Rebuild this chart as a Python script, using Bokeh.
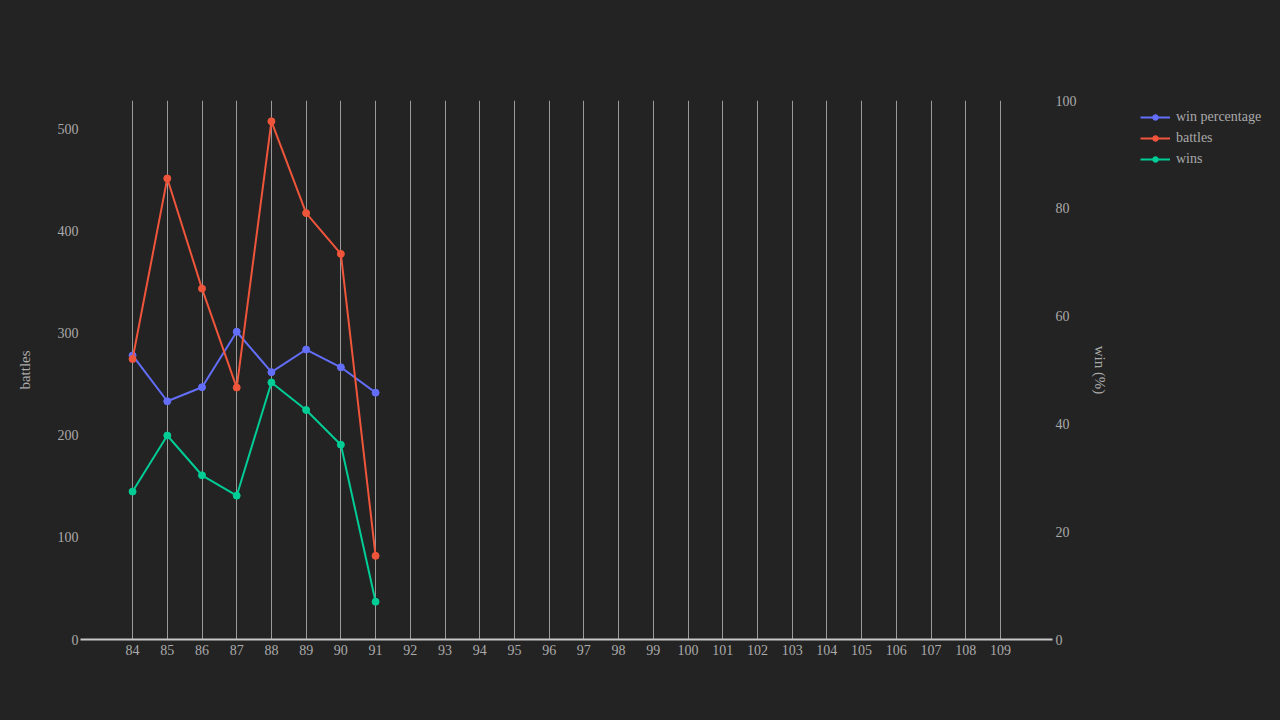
from bokeh.plotting import figure
from bokeh.layouts import row
from bokeh.models import Range1d, LinearAxis, Legend, LegendItem, FixedTicker
from bokeh.embed import file_html
from bokeh.resources import INLINE

seasons = [84, 85, 86, 87, 88, 89, 90, 91]
all_ticks = list(range(84, 110))
battles = [275, 452, 344, 247, 508, 418, 378, 82]
wins = [145, 200, 161, 141, 252, 225, 191, 37]
win_pct = [52.7, 44.2, 46.8, 57.1, 49.6, 53.8, 50.5, 45.8]
series_names = ["win percentage", "battles", "wins"]

BG = "#232323"
TXT = "#aaaaaa"
FONT = "Liberation Serif"
C_PCT = "#636efa"
C_BAT = "#ef553b"
C_WIN = "#00cc96"
colors = [C_PCT, C_BAT, C_WIN]

p = figure(width=1122, height=712, output_backend="svg", toolbar_location=None,
           x_range=Range1d(82.5, 110.5), y_range=Range1d(0, 528.4),
           min_border_left=80, min_border_right=70, min_border_top=100, min_border_bottom=73)
p.background_fill_alpha = 0
p.border_fill_color = BG
p.outline_line_color = None
p.extra_y_ranges = {"pct": Range1d(0, 100)}

# x axis
p.xaxis.ticker = FixedTicker(ticks=all_ticks)
p.xaxis.axis_line_color = "#c8c8c8"
p.xaxis.axis_line_width = 2
p.xaxis.major_tick_line_color = None
p.xaxis.minor_tick_line_color = None
p.xaxis.major_tick_out = 0
p.xaxis.minor_tick_out = 0
p.xaxis.major_label_text_color = TXT
p.xaxis.major_label_text_font = FONT
p.xaxis.major_label_text_font_size = "14px"
p.xaxis.major_label_standoff = 5

# left axis
p.yaxis.ticker = FixedTicker(ticks=[0, 100, 200, 300, 400, 500])
p.yaxis.axis_line_color = None
p.yaxis.major_tick_line_color = None
p.yaxis.minor_tick_line_color = None
p.yaxis.major_tick_out = 0
p.yaxis.minor_tick_out = 0
p.yaxis.major_label_text_color = TXT
p.yaxis.major_label_text_font = FONT
p.yaxis.major_label_text_font_size = "14px"
p.yaxis.major_label_standoff = 2
p.yaxis.axis_label = "battles"
p.yaxis.axis_label_text_color = TXT
p.yaxis.axis_label_text_font = FONT
p.yaxis.axis_label_text_font_size = "15px"
p.yaxis.axis_label_text_font_style = "normal"
p.yaxis.axis_label_standoff = 22

# right axis
ra = LinearAxis(y_range_name="pct", ticker=FixedTicker(ticks=[0, 20, 40, 60, 80, 100]),
                axis_label="win (%)")
ra.axis_line_color = None
ra.major_tick_line_color = None
ra.minor_tick_line_color = None
ra.major_tick_out = 0
ra.minor_tick_out = 0
ra.major_label_text_color = TXT
ra.major_label_text_font = FONT
ra.major_label_text_font_size = "14px"
ra.major_label_standoff = 3
ra.axis_label_text_color = TXT
ra.axis_label_text_font = FONT
ra.axis_label_text_font_size = "15px"
ra.axis_label_text_font_style = "normal"
ra.axis_label_standoff = 12
p.add_layout(ra, "right")

p.xgrid.grid_line_color = "#9a9a9a"
p.xgrid.grid_line_width = 1
p.ygrid.grid_line_color = None

p.line(seasons, win_pct, y_range_name="pct", color=C_PCT, line_width=2)
p.scatter(seasons, win_pct, y_range_name="pct", color=C_PCT, size=7)
p.line(seasons, battles, color=C_BAT, line_width=2)
p.scatter(seasons, battles, color=C_BAT, size=7)
p.line(seasons, wins, color=C_WIN, line_width=2)
p.scatter(seasons, wins, color=C_WIN, size=7)

# legend panel (separate figure placed to the right)
p2 = figure(width=150, height=712, output_backend="svg", toolbar_location=None,
            x_axis_type=None, y_axis_type=None, x_range=Range1d(0, 1), y_range=Range1d(0, 1),
            min_border_left=11, min_border_right=0, min_border_top=100, min_border_bottom=73)
p2.background_fill_alpha = 0
p2.border_fill_color = BG
p2.outline_line_color = None
p2.grid.grid_line_color = None
items = []
for name, c in zip(series_names, colors):
    lr = p2.line([-5, -4], [-5, -4], color=c, line_width=2)
    sr = p2.scatter([-5], [-5], color=c, size=7)
    items.append(LegendItem(label=name, renderers=[lr, sr]))

legend = Legend(items=items, location="top_left", background_fill_alpha=0, border_line_color=None,
                label_text_color=TXT, label_text_font=FONT, label_text_font_size="14px",
                glyph_width=30, glyph_height=14, label_height=20, spacing=1,
                padding=5, margin=7, label_standoff=6)
p2.add_layout(legend, "center")

layout = row(p, p2, spacing=0)
html = file_html(layout, INLINE)
html = html.replace("<head>", "<head><style>html,body{background:#232323;}</style>", 1)
open("out.html", "w").write(html)
